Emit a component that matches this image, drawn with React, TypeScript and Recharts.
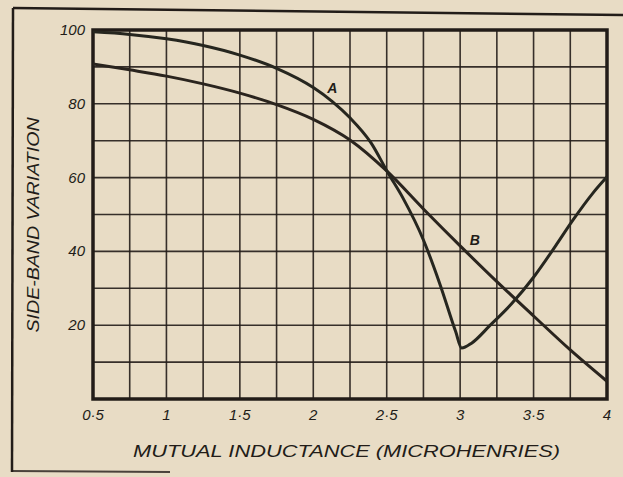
import React from 'react';
import { ComposedChart, Line, XAxis, YAxis, CartesianGrid, ReferenceArea, ReferenceDot } from 'recharts';

// Curve A (mutual inductance in microhenries vs side-band variation)
const curveAX = [0.5, 0.75, 1.0, 1.25, 1.5, 1.75, 2.0, 2.13, 2.25, 2.39, 2.51, 2.61, 2.75, 2.86, 2.97, 3.01, 3.08, 3.2, 3.35, 3.5, 3.65, 3.77, 3.9, 4.0];
const curveAY = [99.5, 98.8, 97.6, 95.8, 93.2, 89.6, 84.4, 80.6, 76.2, 69.6, 61.2, 54.5, 43.1, 31.4, 18.2, 13.8, 15.2, 19.8, 25.8, 33, 41.5, 48.6, 55.6, 60.2];

// Curve B
const curveBX = [0.5, 0.75, 1.0, 1.25, 1.5, 1.75, 2.0, 2.25, 2.5, 2.75, 3.0, 3.25, 3.5, 3.75, 4.0];
const curveBY = [90.8, 89.2, 87.5, 85.4, 82.9, 79.8, 75.8, 70.2, 61.8, 51.5, 41.5, 31.8, 22.5, 13.3, 4.8];

const xGridValues = [0.5, 0.75, 1, 1.25, 1.5, 1.75, 2, 2.25, 2.5, 2.75, 3, 3.25, 3.5, 3.75, 4];
const xLabelValues = [0.5, 1, 1.5, 2, 2.5, 3, 3.5, 4];
const xLabelTexts = ['0·5', '1', '1·5', '2', '2·5', '3', '3·5', '4'];

const yGridValues = [0, 10, 20, 30, 40, 50, 60, 70, 80, 90, 100];
const yLabelValues = [20, 40, 60, 80, 100];
const yLabelTexts = ['20', '40', '60', '80', '100'];

const curveLabels = ['A', 'B'];
const curveLabelX = [2.13, 3.1];
const curveLabelY = [84.3, 43];

const xTitle = 'MUTUAL  INDUCTANCE  (MICROHENRIES)';
const yTitle = 'SIDE-BAND  VARIATION';

const dataA = curveAX.map((x, i) => ({ x, y: curveAY[i] }));
const dataB = curveBX.map((x, i) => ({ x, y: curveBY[i] }));

const INK = '#221c18';
const PAPER = '#e8dcc5';
const FONT = '"Liberation Sans", "DejaVu Sans", sans-serif';

const XTick = (props: any) => {
  const { x, y, payload } = props;
  const i = xLabelValues.indexOf(payload.value);
  if (i < 0) return null;
  return (
    <text x={x} y={y + 21} textAnchor="middle" fontFamily={FONT} fontStyle="italic" fontSize={15} fill={INK}>
      {xLabelTexts[i]}
    </text>
  );
};

const YTick = (props: any) => {
  const { x, y, payload } = props;
  const i = yLabelValues.indexOf(payload.value);
  if (i < 0) return null;
  return (
    <text x={x - 8} y={y + 5} textAnchor="end" fontFamily={FONT} fontStyle="italic" fontSize={15} fill={INK}>
      {yLabelTexts[i]}
    </text>
  );
};

const CurveLabel = (text: string) => (props: any) => {
  const vb = props.viewBox || {};
  const cx = vb.x + (vb.width || 0) / 2;
  const cy = vb.y + (vb.height || 0) / 2;
  return (
    <text x={cx} y={cy + 5} textAnchor="middle" fontFamily={FONT} fontStyle="italic" fontWeight="bold" fontSize={14} fill={INK}>
      {text}
    </text>
  );
};

export default function App() {
  return (
    <div style={{ position: 'absolute', left: 0, top: 0, width: 623, height: 477, background: PAPER, overflow: 'hidden' }}>
      <svg width={623} height={477} style={{ position: 'absolute', left: 0, top: 0 }}>
        <line x1={13} y1={8} x2={623} y2={15} stroke={INK} strokeWidth={2.5} />
        <line x1={13} y1={8} x2={12} y2={472} stroke={INK} strokeWidth={2.5} />
        <line x1={12} y1={471} x2={170} y2={472} stroke={INK} strokeWidth={2} strokeOpacity={0.8} />
        <text
          x={0}
          y={0}
          transform="translate(39,225) rotate(-90)"
          textAnchor="middle"
          fontFamily={FONT}
          fontStyle="italic"
          fontSize={16}
          fill={INK}
          textLength={215}
          lengthAdjust="spacingAndGlyphs"
        >
          {yTitle}
        </text>
        <text
          x={133}
          y={457}
          fontFamily={FONT}
          fontStyle="italic"
          fontSize={16}
          fill={INK}
          textLength={427}
          lengthAdjust="spacingAndGlyphs"
        >
          {xTitle}
        </text>
      </svg>
      <div style={{ position: 'absolute', left: 0, top: 0 }}>
        <ComposedChart width={623} height={477} margin={{ top: 30, right: 16, left: 0, bottom: 0 }}>
          <CartesianGrid stroke={INK} strokeWidth={1.6} strokeOpacity={0.9} verticalValues={xGridValues} horizontalValues={yGridValues} />
          <XAxis
            type="number"
            dataKey="x"
            domain={[0.5, 4]}
            ticks={xGridValues}
            interval={0}
            tick={<XTick />}
            tickLine={false}
            tickSize={0}
            tickMargin={0}
            axisLine={false}
            height={78}
            allowDataOverflow
          />
          <YAxis
            type="number"
            dataKey="y"
            domain={[0, 100]}
            ticks={yGridValues}
            interval={0}
            tick={<YTick />}
            tickLine={false}
            tickSize={0}
            tickMargin={0}
            axisLine={false}
            width={93}
            allowDataOverflow
          />
          <ReferenceArea x1={0.5} x2={4} y1={0} y2={100} fill="none" stroke={INK} strokeWidth={3.5} fillOpacity={0} ifOverflow="visible" />
          <Line data={dataB} dataKey="y" type="monotone" stroke="#2a241e" strokeWidth={3} dot={false} isAnimationActive={false} />
          <Line data={dataA} dataKey="y" type="monotone" stroke="#26261f" strokeWidth={3} dot={false} isAnimationActive={false} />
          {curveLabels.map((t, i) => (
            <ReferenceDot key={t} x={curveLabelX[i]} y={curveLabelY[i]} r={0} fill="none" stroke="none" label={CurveLabel(t)} />
          ))}
        </ComposedChart>
      </div>
    </div>
  );
}
